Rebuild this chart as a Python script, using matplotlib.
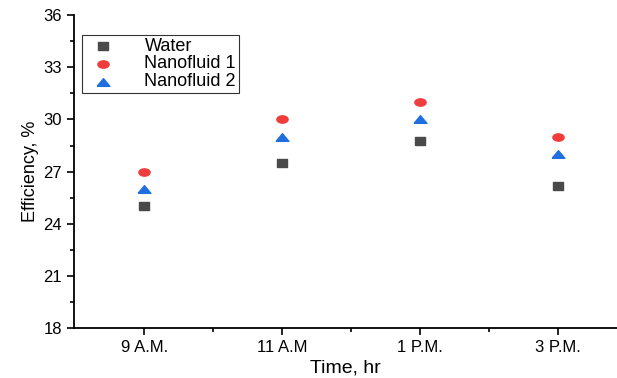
import numpy as np
import matplotlib.pyplot as plt
from matplotlib.path import Path
from matplotlib.ticker import MultipleLocator

plt.rcParams["font.family"] = ["Liberation Sans", "DejaVu Sans"]

times = ["9 A.M.", "11 A.M", "1 P.M.", "3 P.M."]
water = [25.0, 27.5, 28.75, 26.2]
nano1 = [27.0, 30.0, 31.0, 29.0]
nano2 = [26.0, 29.0, 30.0, 28.0]

# markers in the source are stretched sideways
def squash(verts, codes=None, fy=0.65):
    return Path(np.asarray(verts) * np.array([1.0, fy]), codes)

sq = squash([[-1, -1], [1, -1], [1, 1], [-1, 1], [-1, -1]], fy=0.7)
circ = squash(Path.unit_circle().vertices, Path.unit_circle().codes, fy=0.65)
tri = squash([[-1, -0.8], [1, -0.8], [0, 0.8], [-1, -0.8]], fy=0.75)

fig = plt.figure(figsize=(6.17, 3.78), dpi=100)
ax = fig.add_axes([0.12, 0.132, 0.88, 0.828])

x = np.arange(len(times))
ax.scatter(x, water, marker=sq, s=55, color="#4a4a4a", label="Water", zorder=3)
ax.scatter(x, nano1, marker=circ, s=65, color="#f03c3c", label="Nanofluid 1", zorder=3)
ax.scatter(x, nano2, marker=tri, s=85, color="#1f6fe0", label="Nanofluid 2", zorder=3)

ax.set_xlim(-0.51, 3.43)
ax.set_ylim(18, 36)
ax.set_xticks(x)
ax.set_xticklabels(times)
ax.set_xticks(x[:-1] + 0.5, minor=True)
ax.yaxis.set_major_locator(MultipleLocator(3))
ax.yaxis.set_minor_locator(MultipleLocator(1.5))
ax.tick_params(which="major", direction="out", length=5, width=1.2, labelsize=12)
ax.tick_params(which="minor", direction="out", length=3, width=1.2)

for s in ["top", "right"]:
    ax.spines[s].set_visible(False)
for s in ["left", "bottom"]:
    ax.spines[s].set_linewidth(1.3)

ax.set_xlabel("Time, hr", fontsize=14, labelpad=3)
ax.set_ylabel("Efficiency, %", fontsize=13, labelpad=3)

leg = ax.legend(loc="upper left", bbox_to_anchor=(0.015, 0.937), fontsize=13,
                frameon=True, fancybox=False, borderpad=0.15, labelspacing=0.05,
                handletextpad=1.3, borderaxespad=0)
leg.get_frame().set_edgecolor("black")
leg.get_frame().set_linewidth(0.8)

fig.savefig("out.png", dpi=100)
